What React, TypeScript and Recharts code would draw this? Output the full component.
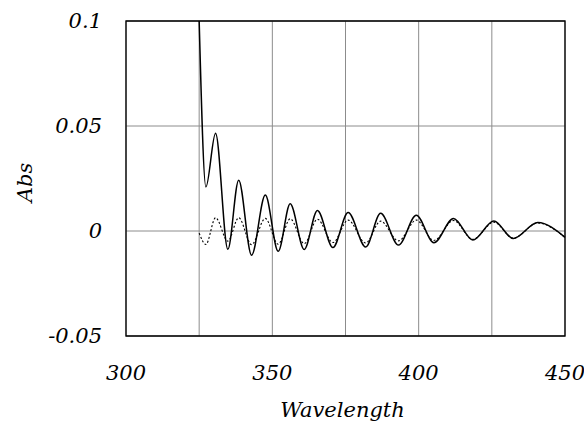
import { CartesianGrid, Line, LineChart, ReferenceArea, XAxis, YAxis } from "recharts";

// wavelengths at the turning points of the fringes
const wavelengths = [
  325, 327.3, 330.6, 334.8, 338.5, 342.9, 347.6, 352.0, 356.1, 360.9, 365.4, 370.7,
  375.9, 381.9, 387.0, 393.1, 399.2, 405.2, 411.9, 418.5, 425.7, 432.3, 440.7, 450,
];
const solidAbs = [
  0.1, 0.021, 0.0466, -0.0087, 0.0242, -0.0115, 0.0171, -0.0097, 0.0130, -0.0088, 0.0098, -0.0079,
  0.0088, -0.0076, 0.0084, -0.0067, 0.0075, -0.0056, 0.0060, -0.0043, 0.0048, -0.0036, 0.0040, -0.0030,
];
const dottedAbs = [
  -0.001, -0.0064, 0.0063, -0.0048, 0.0063, -0.0065, 0.0060, -0.0063, 0.0058, -0.0060, 0.0056, -0.0055,
  0.0052, -0.0057, 0.0047, -0.0047, 0.0052, -0.0045, 0.0050, -0.0040, 0.0042, -0.0034, 0.0038, -0.0030,
];
const xTicks = [300, 325, 350, 375, 400, 425, 450];
const xLabelled = [300, 350, 400, 450];
const yTicks = [-0.05, 0, 0.05, 0.1];

const chartData = wavelengths.map((wl, i) => ({ wl, solid: solidAbs[i], dotted: dottedAbs[i] }));

const font = {
  fontFamily: "DejaVu Serif",
  fontStyle: "italic" as const,
  fontSize: 21,
  fill: "#000",
};

function XTitle(props: any) {
  const { viewBox } = props;
  const cx = viewBox.x + viewBox.width / 2 - 3;
  return (
    <text x={cx} y={417} textAnchor="middle" {...font}>
      Wavelength
    </text>
  );
}

function YTitle(props: any) {
  const { viewBox } = props;
  const cx = 32;
  const cy = viewBox.y + viewBox.height / 2 + 4;
  return (
    <text x={cx} y={cy} transform={`rotate(-90 ${cx} ${cy})`} textAnchor="middle" {...font}>
      Abs
    </text>
  );
}

export default function App() {
  return (
    <div>
      <style>{"body{margin:0;background:#fff}"}</style>
      <LineChart width={584} height={423} data={chartData} margin={{ top: 21, right: 19, bottom: 0, left: 0 }}>
        <CartesianGrid stroke="#8c8c8c" strokeWidth={1} />
        <XAxis
          type="number"
          dataKey="wl"
          domain={[300, 450]}
          ticks={xTicks}
          tickFormatter={(v) => (xLabelled.includes(v) ? String(v) : "")}
          height={87}
          axisLine={false}
          tickLine={false}
          tickSize={0}
          tickMargin={29}
          tick={font}
          label={<XTitle />}
        />
        <YAxis
          type="number"
          domain={[-0.05, 0.1]}
          ticks={yTicks}
          width={126}
          axisLine={false}
          tickLine={false}
          tickSize={0}
          tickMargin={24}
          tick={font}
          label={<YTitle />}
        />
        <Line
          type="monotone"
          dataKey="dotted"
          stroke="#000"
          strokeWidth={1.1}
          strokeDasharray="2 2"
          dot={false}
          isAnimationActive={false}
        />
        <Line type="monotone" dataKey="solid" stroke="#000" strokeWidth={1.5} dot={false} isAnimationActive={false} />
        <ReferenceArea x1={300} x2={450} y1={-0.05} y2={0.1} fill="none" stroke="#000" strokeWidth={1.3} />
      </LineChart>
    </div>
  );
}
